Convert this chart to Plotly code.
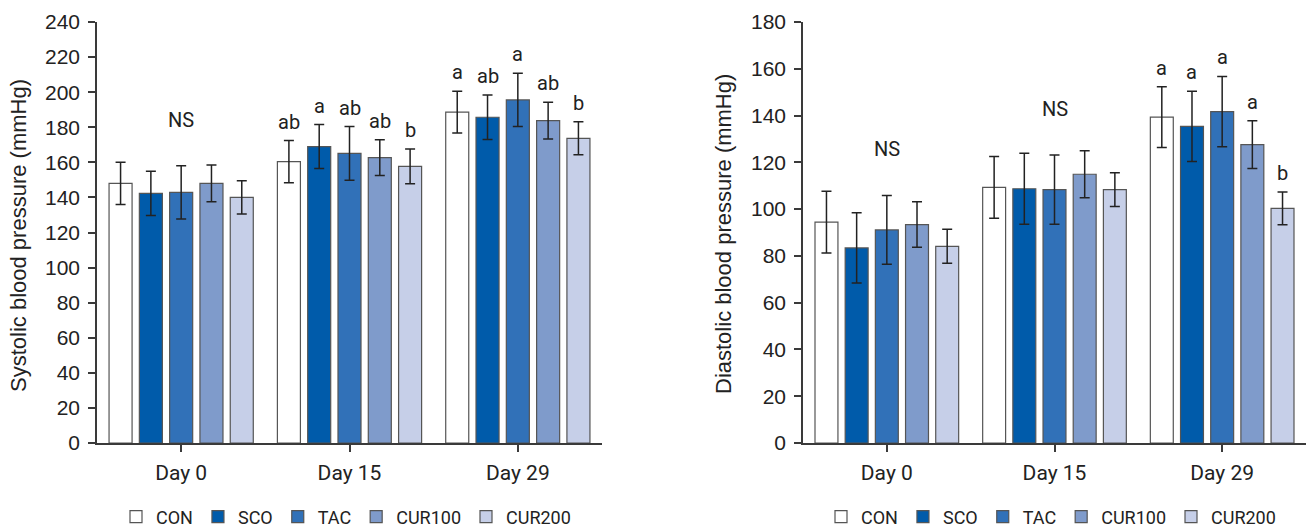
import plotly.graph_objects as go

days = ["Day 0", "Day 15", "Day 29"]
groups = ["CON", "SCO", "TAC", "CUR100", "CUR200"]
colors = ["#FFFFFF", "#005BAA", "#3171B8", "#7F9BCB", "#C6CFE8"]

# Systolic blood pressure (mmHg): mean and SD per group across days
sys_mean = {
    "CON":    [148.0, 160.4, 188.6],
    "SCO":    [142.3, 169.0, 185.7],
    "TAC":    [142.9, 165.1, 195.6],
    "CUR100": [148.0, 162.7, 183.8],
    "CUR200": [140.0, 157.7, 173.7],
}
sys_err = {
    "CON":    [12.0, 12.0, 11.9],
    "SCO":    [12.6, 12.5, 12.7],
    "TAC":    [15.2, 15.3, 15.2],
    "CUR100": [10.5, 10.2, 10.5],
    "CUR200": [9.5, 9.9, 9.4],
}
sys_letters = [
    ["", "", "", "", ""],
    ["ab", "a", "ab", "ab", "b"],
    ["a", "ab", "a", "ab", "b"],
]
sys_ns = [True, False, False]

# Diastolic blood pressure (mmHg)
dia_mean = {
    "CON":    [94.4, 109.3, 139.3],
    "SCO":    [83.4, 108.7, 135.4],
    "TAC":    [91.1, 108.3, 141.7],
    "CUR100": [93.4, 114.9, 127.6],
    "CUR200": [84.1, 108.3, 100.3],
}
dia_err = {
    "CON":    [13.2, 13.2, 13.0],
    "SCO":    [15.0, 15.2, 15.0],
    "TAC":    [14.7, 14.8, 15.0],
    "CUR100": [9.7, 10.0, 10.2],
    "CUR200": [7.3, 7.2, 7.0],
}
dia_letters = [
    ["", "", "", "", ""],
    ["", "", "", "", ""],
    ["a", "a", "a", "a", "b"],
]
dia_ns = [True, True, False]

W, H = 1307, 528
BARGAP = 0.1
BARGROUPGAP = 0.24
AXIS_COLOR = "#3a3a3a"
TICK_FONT = dict(family="Liberation Sans, Arial", size=21, color="#222")
CAT_FONT = dict(family="Roboto, Noto Sans", size=21, color="#222")
LETTER_FONT = dict(family="Roboto, Noto Sans", size=20, color="#222")

fig = go.Figure()

def add_panel(means, errs, xa, ya, legend):
    for g, c in zip(groups, colors):
        fig.add_trace(go.Bar(
            x=days, y=means[g], name=g, xaxis=xa, yaxis=ya, legend=legend,
            marker=dict(color=c, line=dict(color="#555555", width=1.2)),
            error_y=dict(type="data", array=errs[g], visible=True,
                         color="#222222", thickness=1.5, width=5),
        ))

add_panel(sys_mean, sys_err, "x", "y", "legend")
add_panel(dia_mean, dia_err, "x2", "y2", "legend2")

slot = (1 - BARGAP) / len(groups)
annotations = []

def add_letters(means, errs, letters, ns, xref, yref):
    for di in range(len(days)):
        tops = [means[g][di] + errs[g][di] for g in groups]
        if ns[di]:
            annotations.append(dict(
                x=di, y=max(tops), xref=xref, yref=yref, text="NS",
                showarrow=False, yanchor="middle", yshift=42, font=LETTER_FONT))
        for gi, g in enumerate(groups):
            t = letters[di][gi]
            if t:
                annotations.append(dict(
                    x=di + (gi - 2) * slot, y=tops[gi], xref=xref, yref=yref,
                    text=t, showarrow=False, yanchor="middle", yshift=19,
                    font=LETTER_FONT))

add_letters(sys_mean, sys_err, sys_letters, sys_ns, "x", "y")
add_letters(dia_mean, dia_err, dia_letters, dia_ns, "x2", "y2")

TITLE_FONT = dict(family="Liberation Sans, Arial", size=22, color="#222")
annotations.append(dict(text="Systolic blood pressure (mmHg)", textangle=-90,
                        x=18 / W, y=1 - 236 / H, xref="paper", yref="paper",
                        showarrow=False, xanchor="center", yanchor="middle",
                        font=TITLE_FONT))
annotations.append(dict(text="Diastolic blood pressure (mmHg)", textangle=-90,
                        x=724 / W, y=1 - 234 / H, xref="paper", yref="paper",
                        showarrow=False, xanchor="center", yanchor="middle",
                        font=TITLE_FONT))

ydom = [(H - 443) / H, (H - 22) / H]
xcommon = dict(type="category", range=[-0.5, 2.5], showline=True, linecolor=AXIS_COLOR,
               linewidth=1.5, ticks="outside", ticklen=7, tickcolor=AXIS_COLOR,
               tickwidth=1.5, tickfont=CAT_FONT, showgrid=False, zeroline=False,
               ticklabelstandoff=3)
ycommon = dict(showline=True, linecolor=AXIS_COLOR, linewidth=1.5, ticks="outside",
               ticklen=7, tickcolor=AXIS_COLOR, tickwidth=1.5, tickfont=TICK_FONT,
               showgrid=False, zeroline=False, dtick=20, domain=ydom,
               ticklabelstandoff=4)

LEG_FONT = dict(family="Roboto, Noto Sans", size=18, color="#222")

fig.update_layout(
    width=W, height=H, margin=dict(l=0, r=0, t=0, b=0, autoexpand=False),
    paper_bgcolor="white", plot_bgcolor="white",
    barmode="group", bargap=BARGAP, bargroupgap=BARGROUPGAP,
    xaxis=dict(domain=[97 / W, 602 / W], anchor="y", **xcommon),
    yaxis=dict(range=[0, 240], anchor="x", **ycommon),
    xaxis2=dict(domain=[803 / W, 1306 / W], anchor="y2", **xcommon),
    yaxis2=dict(range=[0, 180], anchor="x2", **ycommon),
    legend=dict(orientation="h", x=346 / W, xanchor="center", y=1 - 517 / H,
                yanchor="middle", font=LEG_FONT, bgcolor="rgba(0,0,0,0)",
                itemclick=False, itemdoubleclick=False),
    legend2=dict(orientation="h", x=1051 / W, xanchor="center", y=1 - 517 / H,
                 yanchor="middle", font=LEG_FONT, bgcolor="rgba(0,0,0,0)",
                 itemclick=False, itemdoubleclick=False),
    annotations=annotations,
    showlegend=True,
)

fig.write_html("out.html")
